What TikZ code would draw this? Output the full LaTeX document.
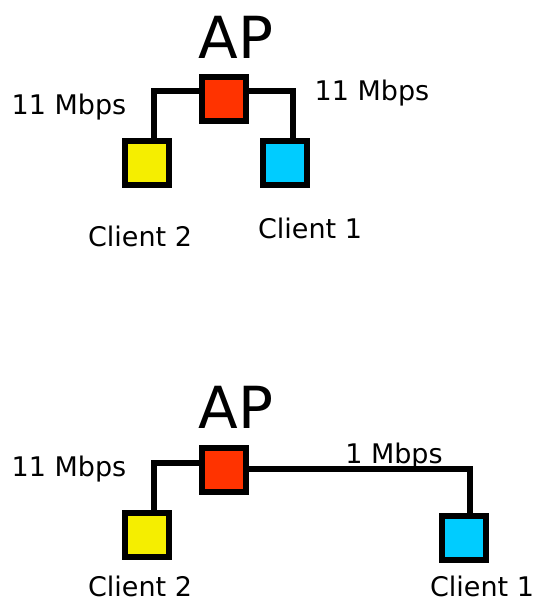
\documentclass[tikz,border=0pt]{standalone}
\usepackage{fontspec}
\setmainfont{DejaVu Sans}
\definecolor{apred}{HTML}{FF3300}
\definecolor{cyel}{HTML}{F5EE00}
\definecolor{cblue}{HTML}{00CCFF}
\begin{document}
\begin{tikzpicture}[x=1pt,y=-1pt,
  box/.style={draw=black,line width=5.5pt,minimum size=44pt,inner sep=0pt,rectangle},
  conn/.style={line width=5.5pt,line join=miter},
  lbl/.style={font=\fontsize{27}{30}\selectfont,inner sep=0pt},
  aplbl/.style={font=\fontsize{58}{60}\selectfont,inner sep=0pt}]
\useasboundingbox (0,0) rectangle (543,603);
% top diagram
\node[aplbl] (aptxt1) at (236,37) {AP};
\node[box,fill=apred] (ap1) at (224,99) {};
\node[box,fill=cyel] (c2a) at (147,163) {};
\node[box,fill=cblue] (c1a) at (285,163) {};
\draw[conn] ([yshift=8pt]ap1.west) -| ([xshift=7pt]c2a.north);
\draw[conn] ([yshift=8pt]ap1.east) -| ([xshift=8pt]c1a.north);
\node[lbl] (r1) at (69,107) {11 Mbps};
\node[lbl] (r2) at (372,93) {11 Mbps};
\node[lbl] (n2a) at (140,236) {Client 2};
\node[lbl] (n1a) at (310,228) {Client 1};
% bottom diagram
\node[aplbl] (aptxt2) at (236,407) {AP};
\node[box,fill=apred] (ap2) at (224,470) {};
\node[box,fill=cyel] (c2b) at (147,535) {};
\node[box,fill=cblue] (c1b) at (464,538) {};
\draw[conn] ([yshift=7pt]ap2.west) -| ([xshift=7pt]c2b.north);
\draw[conn] ([yshift=1pt]ap2.east) -| ([xshift=6pt,yshift=-4pt]c1b.north);
\node[lbl] (r3) at (69,469) {11 Mbps};
\node[lbl] (r4) at (394,456) {1 Mbps};
\node[lbl] (n2b) at (140,586) {Client 2};
\node[lbl] (n1b) at (482,586) {Client 1};
\end{tikzpicture}
\end{document}
